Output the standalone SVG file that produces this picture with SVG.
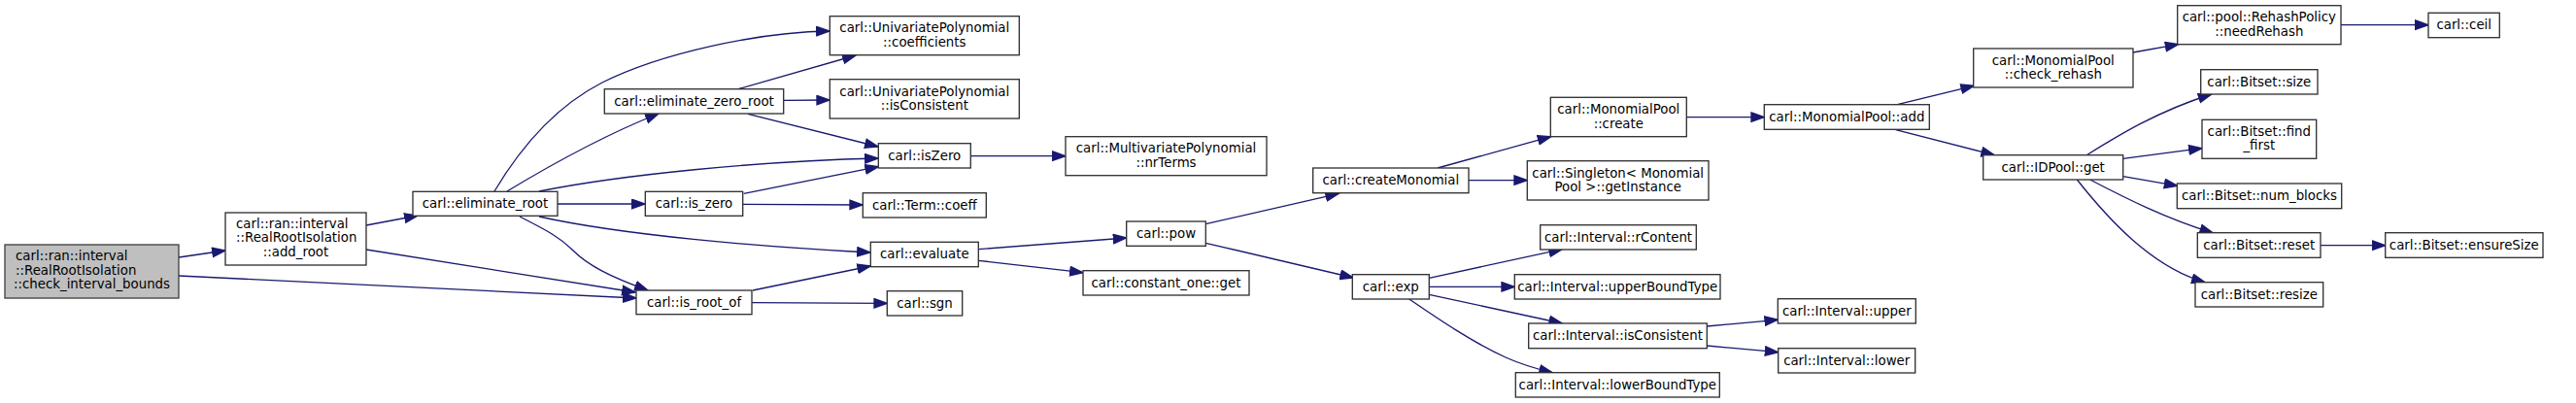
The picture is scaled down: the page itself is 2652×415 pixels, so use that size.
<svg xmlns="http://www.w3.org/2000/svg" width="2652" height="415" viewBox="0 0 2652 415">
<style>
.n rect{fill:#ffffff;stroke:#303030;stroke-width:1.33}
.n.root rect{fill:#bfbfbf;stroke:#404040}
.n text{font-family:"DejaVu Sans","Liberation Sans",sans-serif;font-size:13.33px;fill:#000000}
.m{text-anchor:middle}
.s{text-anchor:start}
.e path{fill:none;stroke:#191970;stroke-width:1.33;marker-end:url(#ah)}
</style>
<defs>
<marker id="ah" markerUnits="userSpaceOnUse" markerWidth="16" markerHeight="12" refX="14" refY="5.5" orient="auto" viewBox="0 0 16 12">
<path d="M0.7,0.8 L14,5.5 L0.7,10.2 Z" fill="#191970" stroke="#191970" stroke-width="1.33"/>
</marker>
</defs>
<rect width="2652" height="415" fill="#ffffff"/>
<g id="edges" class="e">
<path d="M184,265 L232,258"/>
<path d="M184,284 L655,307"/>
<path d="M377,232 L430,222"/>
<path d="M377,257 L654,301"/>
<path d="M509,197 C540,145 575,108 620,85 C680,55 780,33 854,32"/>
<path d="M522,197 C570,168 620,140 678,117"/>
<path d="M555,197 C640,180 780,166 904,163"/>
<path d="M574,210 L664,210"/>
<path d="M555,223 C640,242 780,254 896,260"/>
<path d="M535,223 C560,236 575,243 590,258 C605,273 628,285 667,299"/>
<path d="M760,91.7 L881,57"/>
<path d="M806.7,103.3 L854.3,103"/>
<path d="M770,117.3 L904,151"/>
<path d="M765.7,199.3 L904.3,171.7"/>
<path d="M764.7,210.3 L888.3,211"/>
<path d="M775,299 L896.3,274"/>
<path d="M774,311.7 L913.3,312.3"/>
<path d="M999.3,160.7 L1097,160.7"/>
<path d="M1007.3,256.7 L1159.7,245"/>
<path d="M1007.3,268.3 L1115,280.7"/>
<path d="M1241.3,230.7 L1378.3,199.3"/>
<path d="M1241.3,250.3 L1393.3,286"/>
<path d="M1480,173 L1596.7,140.7"/>
<path d="M1512,185.7 L1572.3,185.7"/>
<path d="M1471.3,286.3 L1608.3,256.7"/>
<path d="M1471.3,295.3 L1559.3,295.3"/>
<path d="M1471.3,303.3 L1608.3,333"/>
<path d="M1450.7,308 C1480,328 1515,352 1550,368 C1568,376 1582,380 1598.3,383.7"/>
<path d="M1736.3,120.7 L1816.3,120.7"/>
<path d="M1953.3,107.7 L2032.3,88.3"/>
<path d="M1951.7,133.7 L2053.3,159.7"/>
<path d="M2196,54 L2242.7,45.7"/>
<path d="M2410,25.7 L2500,25.7"/>
<path d="M2148.3,159.7 C2180,140 2220,115 2276.7,97"/>
<path d="M2185.7,163.3 L2267,152.7"/>
<path d="M2185.7,181.7 L2241.7,191.3"/>
<path d="M2151.7,185 C2190,205 2230,225 2278.3,240"/>
<path d="M2138.3,185 C2170,225 2215,275 2270,290.7"/>
<path d="M2389,252.7 L2455.7,252.7"/>
<path d="M1757.3,336 L1830.3,329.3"/>
<path d="M1757.3,356 L1830.7,362.7"/>
</g>
<g id="node_check_interval_bounds" class="n root"><rect x="5" y="252" width="179" height="55"/><text class="s" x="16" y="268.3">carl::ran::interval</text><text class="s" x="16" y="282.7">::RealRootIsolation</text><text class="m" x="94.5" y="297.1">::check_interval_bounds</text></g>
<g id="node_add_root" class="n"><rect x="232" y="219" width="145" height="54"/><text class="s" x="243" y="235">carl::ran::interval</text><text class="s" x="243" y="249.4">::RealRootIsolation</text><text class="m" x="304.5" y="263.8">::add_root</text></g>
<g id="node_eliminate_root" class="n"><rect x="425" y="197.3" width="149" height="25"/><text class="m" x="499.5" y="214">carl::eliminate_root</text></g>
<g id="node_eliminate_zero_root" class="n"><rect x="622.3" y="91.7" width="184.4" height="25.3"/><text class="m" x="714.5" y="108.6">carl::eliminate_zero_root</text></g>
<g id="node_is_zero" class="n"><rect x="664.3" y="197.3" width="100.4" height="25"/><text class="m" x="714.5" y="214">carl::is_zero</text></g>
<g id="node_is_root_of" class="n"><rect x="655" y="299" width="119" height="24.7"/><text class="m" x="714.5" y="315.5">carl::is_root_of</text></g>
<g id="node_coefficients" class="n"><rect x="854.3" y="16.7" width="195" height="40"/><text class="m" x="951.8" y="33.3">carl::UnivariatePolynomial</text><text class="m" x="951.8" y="47.7">::coefficients</text></g>
<g id="node_uni_isConsistent" class="n"><rect x="854.3" y="81.7" width="195" height="40.3"/><text class="m" x="951.8" y="98.5">carl::UnivariatePolynomial</text><text class="m" x="951.8" y="112.9">::isConsistent</text></g>
<g id="node_isZero" class="n"><rect x="904.3" y="147.7" width="95" height="25.3"/><text class="m" x="951.8" y="164.6">carl::isZero</text></g>
<g id="node_term_coeff" class="n"><rect x="888.3" y="198.7" width="127" height="25.3"/><text class="m" x="951.8" y="215.6">carl::Term::coeff</text></g>
<g id="node_evaluate" class="n"><rect x="896.3" y="249.3" width="111" height="25.4"/><text class="m" x="951.8" y="266.3">carl::evaluate</text></g>
<g id="node_sgn" class="n"><rect x="913.3" y="299.7" width="77.4" height="25.3"/><text class="m" x="952" y="316.6">carl::sgn</text></g>
<g id="node_nrTerms" class="n"><rect x="1097" y="140.7" width="207" height="40"/><text class="m" x="1200.5" y="157.4">carl::MultivariatePolynomial</text><text class="m" x="1200.5" y="171.8">::nrTerms</text></g>
<g id="node_pow" class="n"><rect x="1159.7" y="228" width="81.6" height="25.3"/><text class="m" x="1200.5" y="244.9">carl::pow</text></g>
<g id="node_constant_one_get" class="n"><rect x="1115" y="278.7" width="171" height="25.3"/><text class="m" x="1200.5" y="295.6">carl::constant_one::get</text></g>
<g id="node_createMonomial" class="n"><rect x="1351.7" y="173" width="160.3" height="25.7"/><text class="m" x="1431.8" y="190">carl::createMonomial</text></g>
<g id="node_exp" class="n"><rect x="1392.3" y="282.7" width="79" height="25.3"/><text class="m" x="1431.8" y="299.6">carl::exp</text></g>
<g id="node_mp_create" class="n"><rect x="1596.3" y="100.3" width="140" height="40.4"/><text class="m" x="1666.3" y="117.2">carl::MonomialPool</text><text class="m" x="1666.3" y="131.6">::create</text></g>
<g id="node_getInstance" class="n"><rect x="1572.3" y="165.7" width="186.7" height="40.3"/><text class="m" x="1665.7" y="182.5">carl::Singleton&lt; Monomial</text><text class="m" x="1665.7" y="196.9">Pool &gt;::getInstance</text></g>
<g id="node_rContent" class="n"><rect x="1585.7" y="231.7" width="160.6" height="25.3"/><text class="m" x="1666" y="248.6">carl::Interval::rContent</text></g>
<g id="node_upperBoundType" class="n"><rect x="1559.3" y="282.7" width="211.7" height="25.3"/><text class="m" x="1665.2" y="299.6">carl::Interval::upperBoundType</text></g>
<g id="node_int_isConsistent" class="n"><rect x="1573.7" y="333" width="183.6" height="25.7"/><text class="m" x="1665.5" y="350">carl::Interval::isConsistent</text></g>
<g id="node_lowerBoundType" class="n"><rect x="1560.3" y="383.7" width="210" height="25.3"/><text class="m" x="1665.3" y="400.6">carl::Interval::lowerBoundType</text></g>
<g id="node_mp_add" class="n"><rect x="1816.3" y="107.7" width="170" height="25.6"/><text class="m" x="1901.3" y="124.7">carl::MonomialPool::add</text></g>
<g id="node_upper" class="n"><rect x="1830.3" y="307.7" width="142" height="25.3"/><text class="m" x="1901.3" y="324.6">carl::Interval::upper</text></g>
<g id="node_lower" class="n"><rect x="1830.7" y="358.7" width="141" height="25.3"/><text class="m" x="1901.2" y="375.6">carl::Interval::lower</text></g>
<g id="node_check_rehash" class="n"><rect x="2031.7" y="50" width="164.3" height="40"/><text class="m" x="2113.8" y="66.7">carl::MonomialPool</text><text class="m" x="2113.8" y="81.1">::check_rehash</text></g>
<g id="node_idpool_get" class="n"><rect x="2041.7" y="159.7" width="144" height="25.3"/><text class="m" x="2113.7" y="176.6">carl::IDPool::get</text></g>
<g id="node_needRehash" class="n"><rect x="2241.7" y="5.7" width="168.3" height="40"/><text class="m" x="2325.8" y="22.4">carl::pool::RehashPolicy</text><text class="m" x="2325.8" y="36.8">::needRehash</text></g>
<g id="node_bitset_size" class="n"><rect x="2265.7" y="71.7" width="120.3" height="25.3"/><text class="m" x="2325.8" y="88.6">carl::Bitset::size</text></g>
<g id="node_find_first" class="n"><rect x="2267" y="123.3" width="117.7" height="40"/><text class="m" x="2325.8" y="140">carl::Bitset::find</text><text class="m" x="2325.8" y="154.4">_first</text></g>
<g id="node_num_blocks" class="n"><rect x="2241.3" y="189" width="169.4" height="25.7"/><text class="m" x="2326" y="206">carl::Bitset::num_blocks</text></g>
<g id="node_reset" class="n"><rect x="2262.3" y="239.7" width="126.7" height="25.6"/><text class="m" x="2325.7" y="256.7">carl::Bitset::reset</text></g>
<g id="node_resize" class="n"><rect x="2260" y="290.7" width="131.7" height="25.3"/><text class="m" x="2325.8" y="307.6">carl::Bitset::resize</text></g>
<g id="node_ceil" class="n"><rect x="2500" y="13.3" width="73.3" height="25.4"/><text class="m" x="2536.7" y="30.2">carl::ceil</text></g>
<g id="node_ensureSize" class="n"><rect x="2455.7" y="239.7" width="162.3" height="25.6"/><text class="m" x="2536.8" y="256.7">carl::Bitset::ensureSize</text></g>
</svg>
